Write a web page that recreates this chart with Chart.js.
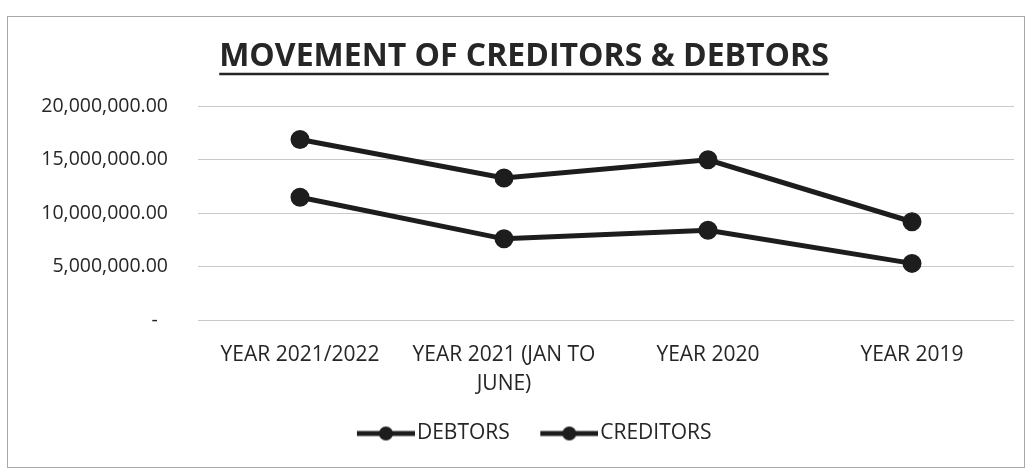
<!DOCTYPE html>
<html>
<head>
<meta charset="utf-8">
<title>Movement of Creditors & Debtors</title>
<script src="https://cdn.jsdelivr.net/npm/chart.js@4.4.1/dist/chart.umd.min.js"></script>
<style>
  html, body { margin: 0; padding: 0; background: #fff; }
  #wrap { width: 1033px; height: 473px; position: relative; }
</style>
</head>
<body>
<div id="wrap"><canvas id="chart" width="1033" height="473"></canvas></div>
<script>
// values
const categories = ['YEAR 2021/2022', ['YEAR 2021 (JAN TO', 'JUNE)'], 'YEAR 2020', 'YEAR 2019'];
const debtors = [16900000, 13300000, 15000000, 9200000];
const creditors = [11500000, 7600000, 8400000, 5300000];
const yTicks = [0, 5000000, 10000000, 15000000, 20000000];

const INK = '#1d1d1d';
const TEXT = '#262626';
const FONT = "'Open Sans', 'Noto Sans', sans-serif";

// legend icon: short line with a dot in the middle
function legendIcon() {
  const c = document.createElement('canvas');
  c.width = 87;
  c.height = 18;
  const g = c.getContext('2d');
  g.strokeStyle = INK;
  g.lineWidth = 5;
  g.beginPath();
  g.moveTo(29, 9);
  g.lineTo(87, 9);
  g.stroke();
  g.fillStyle = INK;
  g.beginPath();
  g.arc(58, 9, 7, 0, Math.PI * 2);
  g.fill();
  return c;
}
const icon = legendIcon();

// frame round the chart and the underline under the title
const decorations = {
  id: 'decorations',
  beforeDraw(chart) {
    const ctx = chart.ctx;
    ctx.save();
    ctx.strokeStyle = '#a8a8a8';
    ctx.lineWidth = 1;
    ctx.strokeRect(7.5, 16.5, 1017, 451);
    ctx.restore();
  },
  afterDraw(chart) {
    const t = chart.titleBlock;
    if (!t) return;
    const ctx = chart.ctx;
    ctx.save();
    ctx.font = `bold 32px ${FONT}`;
    const w = ctx.measureText(chart.options.plugins.title.text).width;
    const cx = (t.left + t.right) / 2;
    ctx.strokeStyle = TEXT;
    ctx.lineWidth = 2.5;
    ctx.beginPath();
    ctx.moveTo(cx - w / 2, 74);
    ctx.lineTo(cx + w / 2, 74);
    ctx.stroke();
    ctx.restore();
  }
};

const lineStyle = {
  borderColor: INK,
  backgroundColor: INK,
  borderWidth: 5,
  pointRadius: 7,
  pointHoverRadius: 7,
  pointBackgroundColor: INK,
  pointBorderColor: INK,
  tension: 0,
  fill: false
};

new Chart(document.getElementById('chart'), {
  type: 'line',
  data: {
    labels: categories,
    datasets: [
      { label: 'DEBTORS', data: debtors, ...lineStyle },
      { label: 'CREDITORS', data: creditors, ...lineStyle }
    ]
  },
  plugins: [decorations],
  options: {
    responsive: false,
    animation: false,
    layout: { padding: { top: 0, left: 34, right: 19, bottom: 19 } },
    plugins: {
      title: {
        display: true,
        text: 'MOVEMENT OF CREDITORS & DEBTORS',
        color: TEXT,
        font: { family: FONT, size: 32, weight: 'bold', lineHeight: 1.2 },
        padding: { top: 38, bottom: 30 }
      },
      legend: {
        position: 'bottom',
        labels: {
          usePointStyle: true,
          pointStyleWidth: 70,
          padding: 10,
          color: TEXT,
          font: { family: FONT, size: 21 },
          generateLabels(chart) {
            const items = Chart.defaults.plugins.legend.labels.generateLabels(chart);
            items.forEach(i => { i.pointStyle = icon; });
            return items;
          }
        }
      },
      tooltip: { enabled: false }
    },
    scales: {
      x: {
        offset: true,
        grid: { display: false },
        border: { display: false },
        ticks: {
          color: TEXT,
          font: { family: FONT, size: 21, lineHeight: 1.4 },
          padding: 12,
          maxRotation: 0,
          autoSkip: false
        },
        afterFit(scale) { scale.height = 93; }
      },
      y: {
        min: 0,
        max: 20000000,
        afterBuildTicks(scale) { scale.ticks = yTicks.map(v => ({ value: v })); },
        grid: { color: '#c9c9c9', lineWidth: 1, drawTicks: false },
        border: { display: false },
        ticks: {
          color: TEXT,
          font: { family: FONT, size: 19.5 },
          padding: 30,
          callback: v => v === 0 ? '-  ' : v.toLocaleString('en-US', { minimumFractionDigits: 2, maximumFractionDigits: 2 })
        },
        afterFit(scale) { scale.width = 164; }
      }
    }
  }
});
</script>
</body>
</html>
